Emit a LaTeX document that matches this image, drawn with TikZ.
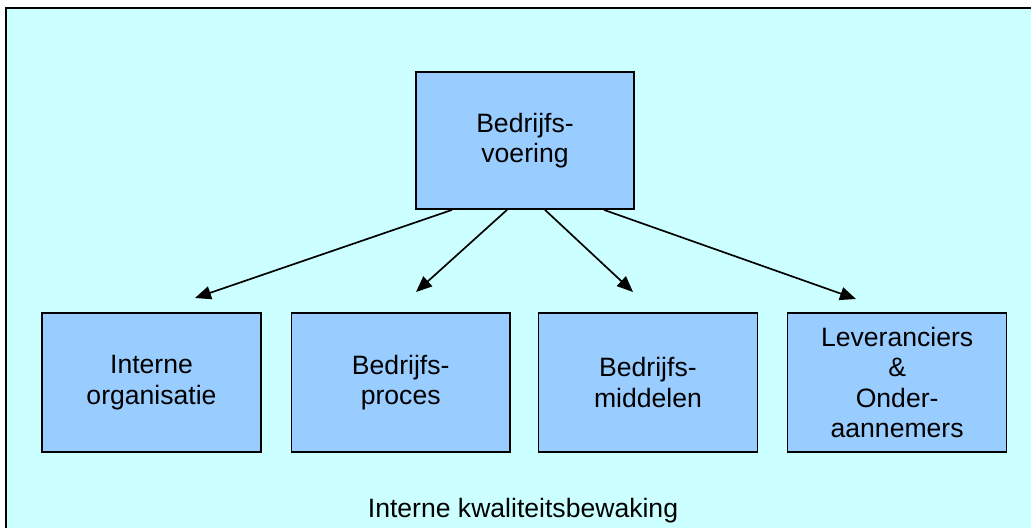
\documentclass[tikz,border=0pt]{standalone}
\usepackage{fontspec}
\setmainfont{Liberation Sans}
\usetikzlibrary{arrows.meta,calc,positioning}

\definecolor{achtergrond}{HTML}{CCFFFF}
\definecolor{blokblauw}{HTML}{99CCFF}

\begin{document}
\begin{tikzpicture}[x=0.025cm,y=-0.025cm,
    blok/.style={draw=black,fill=blokblauw,line width=1.1pt,
      minimum width=5.47cm,minimum height=3.47cm,inner sep=0pt,
      align=center,font=\fontsize{18.9}{21.6}\selectfont},
    pijl/.style={-{Triangle[length=0.4cm,width=0.33cm]},line width=1.2pt},
    node distance=0.72cm]
    \useasboundingbox (0,0) rectangle (1031,527);
    \clip (0,0) rectangle (1031,527);
    % kader
    \draw [line width=2pt,fill=achtergrond] (6,8) rectangle (1050,550);
    % bovenste blok
    \node [blok,minimum width=5.45cm,minimum height=3.43cm] (voering) at (525,140.5) {Bedrijfs-\\voering};
    % onderste rij
    \node [blok] (organisatie) at (151.5,382.5) {Interne\\organisatie};
    \node [blok,right=of organisatie] (proces) {Bedrijfs-\\proces};
    \node [blok,right=0.67cm of proces] (middelen) {Bedrijfs-\\middelen};
    \node [blok,right=of middelen] (leveranciers) {Leveranciers\\\&\\Onder-\\aannemers};
    % pijlpunten
    \coordinate (p1) at (195,298);
    \coordinate (p2) at (416,292);
    \coordinate (p3) at (633,292);
    \coordinate (p4) at (856,299);
    \draw [pijl] ($(voering.south)+(-73,0)$) -- (p1);
    \draw [pijl] ($(voering.south)+(-18,0)$) -- (p2);
    \draw [pijl] ($(voering.south)+(20,0)$) -- (p3);
    \draw [pijl] ($(voering.south)+(79,0)$) -- (p4);
    \node [anchor=base,font=\fontsize{18.9}{21.6}\selectfont] (bewaking) at (523,517) {Interne kwaliteitsbewaking};
\end{tikzpicture}
\end{document}
